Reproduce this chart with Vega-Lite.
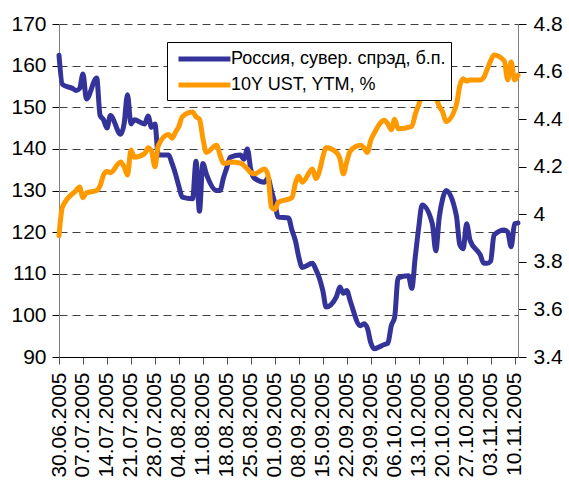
{
  "$schema": "https://vega.github.io/schema/vega-lite/v6.json",
  "width": 459,
  "height": 333,
  "autosize": {"type": "none"},
  "padding": {"left": 59, "top": 24, "right": 51, "bottom": 129},
  "background": "white",
  "config": {
    "view": {"stroke": null},
    "axis": {"labelFont": "Liberation Sans", "labelFontSize": 21, "labelColor": "black", "title": null},
    "axisX": {"labelOverlap": false},
    "legend": {
      "orient": "none", "legendX": 108, "legendY": 18, "title": null,
      "strokeColor": "black", "fillColor": "white", "padding": 5,
      "labelFont": "Liberation Sans", "labelFontSize": 18, "labelColor": "black",
      "labelOffset": 35, "rowPadding": 4, "labelLimit": 400,
      "symbolType": "M-0.58,0H4.89", "symbolSize": 361, "symbolStrokeWidth": 5
    }
  },
  "datasets": {
    "ru": [
      {"date": "2005-06-30", "spread": 162.5}, {"date": "2005-07-01", "spread": 155.5},
      {"date": "2005-07-04", "spread": 154.5}, {"date": "2005-07-05", "spread": 154},
      {"date": "2005-07-06", "spread": 154.5}, {"date": "2005-07-07", "spread": 158},
      {"date": "2005-07-08", "spread": 152}, {"date": "2005-07-11", "spread": 157},
      {"date": "2005-07-12", "spread": 148}, {"date": "2005-07-13", "spread": 147},
      {"date": "2005-07-14", "spread": 145}, {"date": "2005-07-15", "spread": 148},
      {"date": "2005-07-18", "spread": 143.5}, {"date": "2005-07-19", "spread": 146},
      {"date": "2005-07-20", "spread": 153}, {"date": "2005-07-21", "spread": 146},
      {"date": "2005-07-22", "spread": 147}, {"date": "2005-07-25", "spread": 146},
      {"date": "2005-07-26", "spread": 147.9}, {"date": "2005-07-27", "spread": 145.2},
      {"date": "2005-07-28", "spread": 146}, {"date": "2005-07-29", "spread": 138.5},
      {"date": "2005-08-01", "spread": 138.5}, {"date": "2005-08-02", "spread": 136.5},
      {"date": "2005-08-03", "spread": 134}, {"date": "2005-08-04", "spread": 131},
      {"date": "2005-08-05", "spread": 128.4}, {"date": "2005-08-08", "spread": 128},
      {"date": "2005-08-09", "spread": 137}, {"date": "2005-08-10", "spread": 125},
      {"date": "2005-08-11", "spread": 136.5}, {"date": "2005-08-12", "spread": 134},
      {"date": "2005-08-15", "spread": 130}, {"date": "2005-08-16", "spread": 130},
      {"date": "2005-08-17", "spread": 133}, {"date": "2005-08-18", "spread": 135.5},
      {"date": "2005-08-19", "spread": 138}, {"date": "2005-08-22", "spread": 138.5},
      {"date": "2005-08-23", "spread": 137.5}, {"date": "2005-08-24", "spread": 140},
      {"date": "2005-08-25", "spread": 135}, {"date": "2005-08-26", "spread": 133},
      {"date": "2005-08-29", "spread": 132}, {"date": "2005-08-30", "spread": 133},
      {"date": "2005-08-31", "spread": 130}, {"date": "2005-09-01", "spread": 127},
      {"date": "2005-09-02", "spread": 123.6}, {"date": "2005-09-05", "spread": 123.4},
      {"date": "2005-09-06", "spread": 120.5}, {"date": "2005-09-07", "spread": 118},
      {"date": "2005-09-08", "spread": 114}, {"date": "2005-09-09", "spread": 111.5},
      {"date": "2005-09-12", "spread": 112.5}, {"date": "2005-09-13", "spread": 111},
      {"date": "2005-09-14", "spread": 109}, {"date": "2005-09-15", "spread": 106},
      {"date": "2005-09-16", "spread": 102}, {"date": "2005-09-19", "spread": 104.5},
      {"date": "2005-09-20", "spread": 106.8}, {"date": "2005-09-21", "spread": 105.3},
      {"date": "2005-09-22", "spread": 106}, {"date": "2005-09-23", "spread": 103.5},
      {"date": "2005-09-26", "spread": 97.5}, {"date": "2005-09-27", "spread": 98},
      {"date": "2005-09-28", "spread": 97}, {"date": "2005-09-29", "spread": 93.5},
      {"date": "2005-09-30", "spread": 92}, {"date": "2005-10-03", "spread": 93},
      {"date": "2005-10-04", "spread": 93.3}, {"date": "2005-10-05", "spread": 97.5},
      {"date": "2005-10-06", "spread": 99.6}, {"date": "2005-10-07", "spread": 109},
      {"date": "2005-10-10", "spread": 109.5}, {"date": "2005-10-11", "spread": 106.5},
      {"date": "2005-10-12", "spread": 114}, {"date": "2005-10-13", "spread": 121},
      {"date": "2005-10-14", "spread": 126.5}, {"date": "2005-10-17", "spread": 122},
      {"date": "2005-10-18", "spread": 115.5}, {"date": "2005-10-19", "spread": 123.5},
      {"date": "2005-10-20", "spread": 128}, {"date": "2005-10-21", "spread": 130},
      {"date": "2005-10-24", "spread": 124}, {"date": "2005-10-25", "spread": 117},
      {"date": "2005-10-26", "spread": 116}, {"date": "2005-10-27", "spread": 122},
      {"date": "2005-10-28", "spread": 118}, {"date": "2005-10-31", "spread": 114.5},
      {"date": "2005-11-01", "spread": 112.5}, {"date": "2005-11-02", "spread": 112.5},
      {"date": "2005-11-03", "spread": 113}, {"date": "2005-11-04", "spread": 119.3},
      {"date": "2005-11-07", "spread": 120.5}, {"date": "2005-11-08", "spread": 120},
      {"date": "2005-11-09", "spread": 116.5}, {"date": "2005-11-10", "spread": 122},
      {"date": "2005-11-11", "spread": 122.2}
    ],
    "ust": [
      {"date": "2005-06-30", "ytm": 3.91}, {"date": "2005-07-01", "ytm": 4.03},
      {"date": "2005-07-05", "ytm": 4.1}, {"date": "2005-07-06", "ytm": 4.115},
      {"date": "2005-07-07", "ytm": 4.07}, {"date": "2005-07-08", "ytm": 4.09},
      {"date": "2005-07-11", "ytm": 4.1}, {"date": "2005-07-12", "ytm": 4.12},
      {"date": "2005-07-13", "ytm": 4.165}, {"date": "2005-07-14", "ytm": 4.18},
      {"date": "2005-07-15", "ytm": 4.175}, {"date": "2005-07-18", "ytm": 4.22},
      {"date": "2005-07-19", "ytm": 4.2}, {"date": "2005-07-20", "ytm": 4.165},
      {"date": "2005-07-21", "ytm": 4.27}, {"date": "2005-07-22", "ytm": 4.24},
      {"date": "2005-07-25", "ytm": 4.255}, {"date": "2005-07-26", "ytm": 4.28},
      {"date": "2005-07-27", "ytm": 4.265}, {"date": "2005-07-28", "ytm": 4.2},
      {"date": "2005-07-29", "ytm": 4.29}, {"date": "2005-08-01", "ytm": 4.335},
      {"date": "2005-08-02", "ytm": 4.32}, {"date": "2005-08-03", "ytm": 4.345},
      {"date": "2005-08-04", "ytm": 4.37}, {"date": "2005-08-05", "ytm": 4.41},
      {"date": "2005-08-08", "ytm": 4.43}, {"date": "2005-08-09", "ytm": 4.41},
      {"date": "2005-08-10", "ytm": 4.4}, {"date": "2005-08-11", "ytm": 4.32},
      {"date": "2005-08-12", "ytm": 4.26}, {"date": "2005-08-15", "ytm": 4.29},
      {"date": "2005-08-16", "ytm": 4.25}, {"date": "2005-08-17", "ytm": 4.215},
      {"date": "2005-08-18", "ytm": 4.215}, {"date": "2005-08-19", "ytm": 4.22},
      {"date": "2005-08-22", "ytm": 4.215}, {"date": "2005-08-23", "ytm": 4.205},
      {"date": "2005-08-24", "ytm": 4.19}, {"date": "2005-08-25", "ytm": 4.175},
      {"date": "2005-08-26", "ytm": 4.17}, {"date": "2005-08-29", "ytm": 4.19},
      {"date": "2005-08-30", "ytm": 4.165}, {"date": "2005-08-31", "ytm": 4.03},
      {"date": "2005-09-01", "ytm": 4.02}, {"date": "2005-09-02", "ytm": 4.05},
      {"date": "2005-09-06", "ytm": 4.07}, {"date": "2005-09-07", "ytm": 4.13},
      {"date": "2005-09-08", "ytm": 4.16}, {"date": "2005-09-09", "ytm": 4.135},
      {"date": "2005-09-12", "ytm": 4.19}, {"date": "2005-09-13", "ytm": 4.15},
      {"date": "2005-09-14", "ytm": 4.18}, {"date": "2005-09-15", "ytm": 4.24},
      {"date": "2005-09-16", "ytm": 4.28}, {"date": "2005-09-19", "ytm": 4.26},
      {"date": "2005-09-20", "ytm": 4.235}, {"date": "2005-09-21", "ytm": 4.17},
      {"date": "2005-09-22", "ytm": 4.22}, {"date": "2005-09-23", "ytm": 4.265},
      {"date": "2005-09-26", "ytm": 4.29}, {"date": "2005-09-27", "ytm": 4.28},
      {"date": "2005-09-28", "ytm": 4.26}, {"date": "2005-09-29", "ytm": 4.31},
      {"date": "2005-09-30", "ytm": 4.34}, {"date": "2005-10-03", "ytm": 4.395},
      {"date": "2005-10-04", "ytm": 4.38}, {"date": "2005-10-05", "ytm": 4.355},
      {"date": "2005-10-06", "ytm": 4.4}, {"date": "2005-10-07", "ytm": 4.36},
      {"date": "2005-10-11", "ytm": 4.37}, {"date": "2005-10-12", "ytm": 4.42},
      {"date": "2005-10-13", "ytm": 4.46}, {"date": "2005-10-14", "ytm": 4.5},
      {"date": "2005-10-17", "ytm": 4.51}, {"date": "2005-10-18", "ytm": 4.49},
      {"date": "2005-10-19", "ytm": 4.455}, {"date": "2005-10-20", "ytm": 4.43},
      {"date": "2005-10-21", "ytm": 4.39}, {"date": "2005-10-24", "ytm": 4.46},
      {"date": "2005-10-25", "ytm": 4.54}, {"date": "2005-10-26", "ytm": 4.57},
      {"date": "2005-10-27", "ytm": 4.56}, {"date": "2005-10-28", "ytm": 4.565},
      {"date": "2005-10-31", "ytm": 4.565}, {"date": "2005-11-01", "ytm": 4.575},
      {"date": "2005-11-02", "ytm": 4.61}, {"date": "2005-11-03", "ytm": 4.645},
      {"date": "2005-11-04", "ytm": 4.67}, {"date": "2005-11-07", "ytm": 4.645},
      {"date": "2005-11-08", "ytm": 4.565}, {"date": "2005-11-09", "ytm": 4.64},
      {"date": "2005-11-10", "ytm": 4.565}, {"date": "2005-11-11", "ytm": 4.585}
    ]
  },
  "encoding": {
    "x": {
      "field": "date", "type": "temporal",
      "scale": {"type": "utc", "domain": [{"year": 2005, "month": 6, "date": 30, "utc": true}, {"year": 2005, "month": 11, "date": 11, "utc": true}]},
      "axis": {
        "values": [
          {"year": 2005, "month": 6, "date": 30, "utc": true}, {"year": 2005, "month": 7, "date": 7, "utc": true},
          {"year": 2005, "month": 7, "date": 14, "utc": true}, {"year": 2005, "month": 7, "date": 21, "utc": true},
          {"year": 2005, "month": 7, "date": 28, "utc": true}, {"year": 2005, "month": 8, "date": 4, "utc": true},
          {"year": 2005, "month": 8, "date": 11, "utc": true}, {"year": 2005, "month": 8, "date": 18, "utc": true},
          {"year": 2005, "month": 8, "date": 25, "utc": true}, {"year": 2005, "month": 9, "date": 1, "utc": true},
          {"year": 2005, "month": 9, "date": 8, "utc": true}, {"year": 2005, "month": 9, "date": 15, "utc": true},
          {"year": 2005, "month": 9, "date": 22, "utc": true}, {"year": 2005, "month": 9, "date": 29, "utc": true},
          {"year": 2005, "month": 10, "date": 6, "utc": true}, {"year": 2005, "month": 10, "date": 13, "utc": true},
          {"year": 2005, "month": 10, "date": 20, "utc": true}, {"year": 2005, "month": 10, "date": 27, "utc": true},
          {"year": 2005, "month": 11, "date": 3, "utc": true}, {"year": 2005, "month": 11, "date": 10, "utc": true}
        ],
        "labelExpr": "utcFormat(datum.value, '%d.%m.%Y')", "labelAngle": -90, "grid": false,
        "tickSize": 7, "labelPadding": 8, "domainColor": "black", "tickColor": "#555555",
        "labelOverlap": false, "labelSeparation": 0, "labelBound": false, "labelFlush": false
      }
    }
  },
  "layer": [
    {
      "data": {"name": "ru"},
      "mark": {"type": "line", "strokeWidth": 5, "interpolate": "monotone", "strokeJoin": "round", "strokeCap": "round"},
      "encoding": {
        "y": {
          "field": "spread", "type": "quantitative",
          "scale": {"domain": [90, 170], "nice": false, "zero": false},
          "axis": {
            "orient": "left", "values": [90, 100, 110, 120, 130, 140, 150, 160, 170],
            "grid": true, "gridDash": [8, 5], "gridColor": "#404040", "gridWidth": 1,
            "tickSize": 7, "labelPadding": 6, "domainColor": "#808080", "tickColor": "black"
          }
        },
        "color": {
          "datum": "Россия, сувер. спрэд, б.п.", "type": "nominal",
          "scale": {"domain": ["Россия, сувер. спрэд, б.п.", "10Y UST, YTM, %"], "range": ["#333399", "#FF9900"]}
        }
      }
    },
    {
      "data": {"name": "ust"},
      "mark": {"type": "line", "strokeWidth": 5, "interpolate": "monotone", "strokeJoin": "round", "strokeCap": "round"},
      "encoding": {
        "y": {
          "field": "ytm", "type": "quantitative",
          "scale": {"domain": [3.4, 4.8], "nice": false, "zero": false},
          "axis": {
            "orient": "right", "values": [3.4, 3.6, 3.8, 4, 4.2, 4.4, 4.6, 4.8], "format": "~g",
            "grid": false, "tickSize": 8, "labelPadding": 7, "domainColor": "#808080", "tickColor": "black"
          }
        },
        "color": {"datum": "10Y UST, YTM, %", "type": "nominal"}
      }
    }
  ],
  "resolve": {"scale": {"y": "independent"}}
}
